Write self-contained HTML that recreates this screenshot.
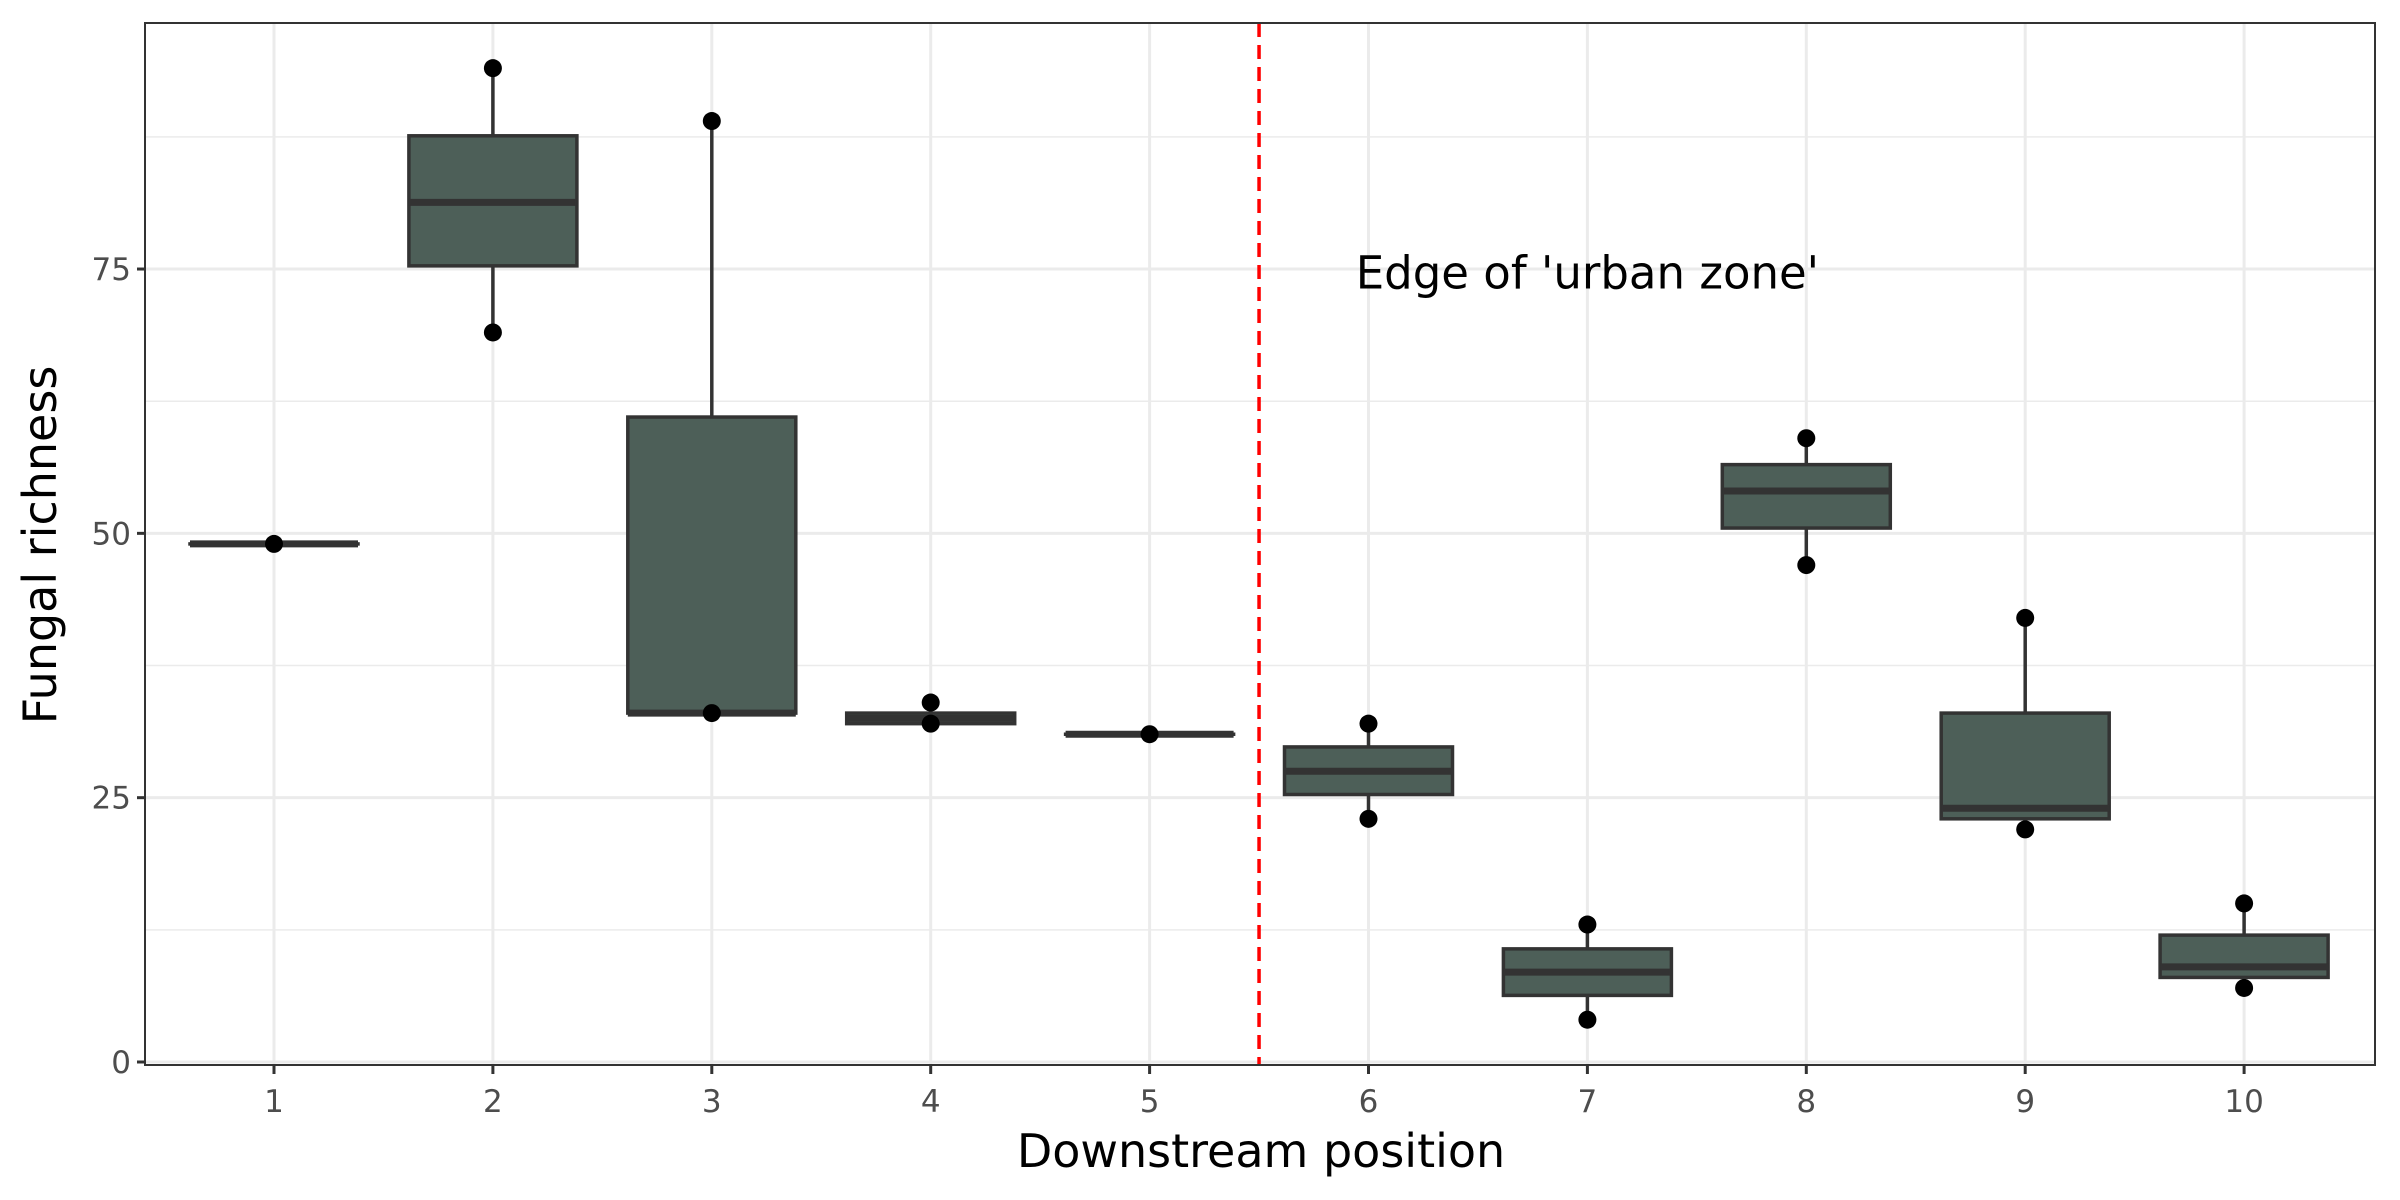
<!DOCTYPE html>
<html><head><meta charset="utf-8"><style>
html,body{margin:0;padding:0;background:#fff}
svg{display:block}
text{font-family:"DejaVu Sans","Liberation Sans",sans-serif}
</style></head><body>
<svg id="chart" width="2400" height="1200" xmlns="http://www.w3.org/2000/svg">
<rect width="2400" height="1200" fill="#fff"/>
<g id="grid"></g>
<g id="marks"></g>
<rect x="145" y="23" width="2230" height="1042" fill="none" stroke="#333" stroke-width="2"/>
<g id="axes"></g>
<text x="1261" y="1167" font-size="46" text-anchor="middle" fill="#000">Downstream position</text>
<text transform="translate(56,545) rotate(-90)" font-size="46" text-anchor="middle" fill="#000">Fungal richness</text>
</svg>
<script>
const categories = [1,2,3,4,5,6,7,8,9,10];
const mins    = [49, 69,   33, 32,   31, 23,   4,    47,   22, 7];
const q1s     = [49, 75.3, 33, 32,   31, 25.3, 6.3,  50.5, 23, 8];
const medians = [49, 81.3, 33, 32.5, 31, 27.5, 8.5,  54,   24, 9];
const q3s     = [49, 87.6, 61, 33,   31, 29.8, 10.7, 56.5, 33, 12];
const maxs    = [49, 93.8, 88.8, 34, 31, 32,   13,   59,   42, 15];
const pointsX = [1, 2, 2, 3, 3, 4, 4, 5, 6, 6, 7, 7, 8, 8, 9, 9, 10, 10];
const pointsY = [49, 94, 69, 89, 33, 34, 32, 31, 32, 23, 13, 4, 59, 47, 42, 22, 15, 7];
const yTicks = [0, 25, 50, 75];
const yMinor = [12.5, 37.5, 62.5, 87.5];
const dividerX = 5.5;
const annotation = "Edge of 'urban zone'";
const annotX = 7.0, annotY = 74.5;

const ns = "http://www.w3.org/2000/svg";
const L=145,R=2375,T=23,B=1065;
const xs = v => 274 + (v-1)*218.9;
const ys = v => 1062 - v*10.573;
function mk(tag, attrs, parent){const e=document.createElementNS(ns,tag);for(const k in attrs)e.setAttribute(k,attrs[k]);parent.appendChild(e);return e;}
const grid=document.getElementById('grid'), marks=document.getElementById('marks'), axes=document.getElementById('axes');

yMinor.forEach(v=>{const l=mk('line',{x1:L,x2:R,y1:ys(v),y2:ys(v),stroke:'#ebebeb','stroke-width':1.5},grid);

});
yTicks.forEach(v=>{const l=mk('line',{x1:L,x2:R,y1:ys(v),y2:ys(v),stroke:'#ebebeb','stroke-width':3},grid);


const t=mk('line',{x1:L-8,x2:L,y1:ys(v),y2:ys(v),stroke:'#333','stroke-width':3},axes);


const tx=mk('text',{x:L-14,y:ys(v)+11,'font-size':31,'text-anchor':'end',fill:'#4d4d4d'},axes);tx.textContent=v;

});
categories.forEach(c=>{const l=mk('line',{x1:xs(c),x2:xs(c),y1:T,y2:B,stroke:'#ebebeb','stroke-width':3},grid);


const t=mk('line',{x1:xs(c),x2:xs(c),y1:B,y2:B+9,stroke:'#333','stroke-width':3},axes);


const tx=mk('text',{x:xs(c),y:B+47,'font-size':31,'text-anchor':'middle',fill:'#4d4d4d'},axes);tx.textContent=c;

});

const hw=84;
categories.forEach((c,i)=>{const g=mk('g',{},marks);


const x=xs(c);
mk('line',{x1:x,x2:x,y1:ys(maxs[i]),y2:ys(q3s[i]),stroke:'#333','stroke-width':3.5},g);
mk('line',{x1:x,x2:x,y1:ys(q1s[i]),y2:ys(mins[i]),stroke:'#333','stroke-width':3.5},g);
mk('rect',{x:x-hw,y:ys(q3s[i]),width:2*hw,height:Math.max(0.01,ys(q1s[i])-ys(q3s[i])),fill:'#4d5f58',stroke:'#333','stroke-width':3.5},g);
mk('line',{x1:x-hw,x2:x+hw,y1:ys(medians[i]),y2:ys(medians[i]),stroke:'#333','stroke-width':7},g);});
pointsX.forEach((c,i)=>{const p=mk('circle',{cx:xs(c),cy:ys(pointsY[i]),r:9,fill:'#000'},marks);

});
const d=mk('line',{x1:xs(dividerX),x2:xs(dividerX),y1:T,y2:B,stroke:'#ff0000','stroke-width':3.5,'stroke-dasharray':'14 8'},marks);


const at=mk('text',{x:xs(annotX),y:ys(annotY)+14,'font-size':45,'text-anchor':'middle',fill:'#000'},marks);at.textContent=annotation;


</script>
</body></html>
